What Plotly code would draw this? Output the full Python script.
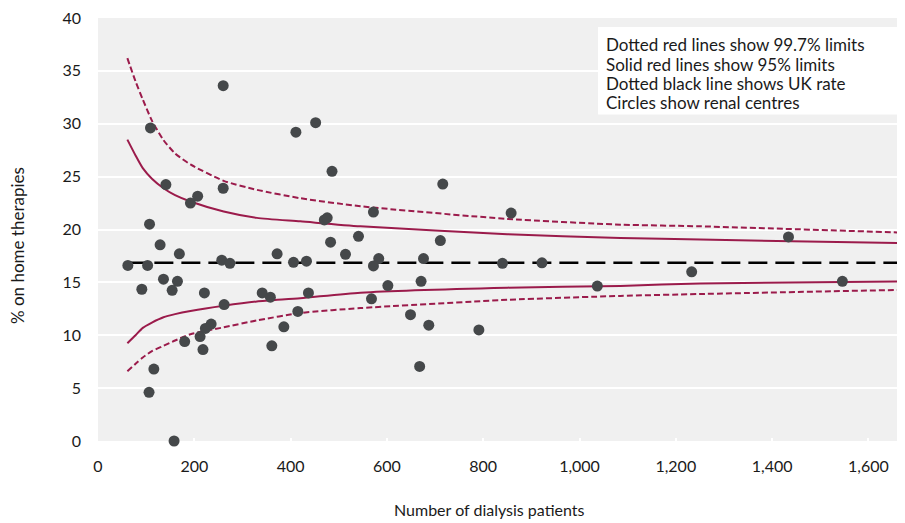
import plotly.graph_objects as go

# Renal centres: number of dialysis patients and % on home therapies
centre_n = [260, 109, 411, 452, 141, 207, 192, 260, 107, 129, 169, 62, 103, 257, 274,
            372, 406, 433, 136, 165, 91, 154, 221, 341, 358, 437, 262, 415, 235, 223,
            212, 180, 386, 218, 361, 116, 106, 158, 486, 716, 572, 470, 476, 858, 483,
            541, 711, 514, 583, 572, 676, 840, 602, 671, 568, 649, 687, 791, 668, 922,
            1233, 1037, 1434, 1546]
centre_pct = [33.6, 29.6, 29.2, 30.1, 24.25, 23.15, 22.5, 23.9, 20.5, 18.55, 17.7, 16.6, 16.6,
              17.1, 16.8, 17.7, 16.9, 17.0, 15.3, 15.1, 14.35, 14.25, 14.0, 14.0, 13.6, 14.0,
              12.9, 12.25, 11.06, 10.65, 9.87, 9.4, 10.8, 8.65, 9.0, 6.8, 4.6, 0.0, 25.5, 24.3,
              21.65, 20.9, 21.1, 21.55, 18.8, 19.35, 18.95, 17.65, 17.25, 16.55, 17.25, 16.8,
              14.7, 15.1, 13.45, 11.95, 10.95, 10.5, 7.05, 16.85, 16.0, 14.65, 19.3, 15.1]

# Funnel limits read at these patient counts
limit_n = [61, 78, 93, 112, 136, 160, 192, 261, 330, 420, 545, 850, 1085, 1251, 1676]
upper_997 = [36.2, 34.0, 32.3, 30.3, 28.45, 27.2, 26.15, 24.6, 23.75, 22.96, 22.2, 21.0, 20.46, 20.3, 19.7]
upper_95 = [28.5, 27.0, 25.8, 24.8, 23.9, 23.25, 22.65, 21.7, 21.1, 20.77, 20.3, 19.55, 19.2, 19.05, 18.7]
lower_95 = [9.25, 10.0, 10.7, 11.2, 11.7, 12.0, 12.3, 12.8, 13.2, 13.5, 14.03, 14.5, 14.66, 14.9, 15.1]
lower_997 = [6.6, 7.3, 7.9, 8.5, 9.0, 9.5, 10.1, 10.75, 11.4, 12.1, 12.57, 13.35, 13.72, 13.9, 14.3]

uk_rate = 16.85
uk_n = [61, 1676]

x_ticks = [0, 200, 400, 600, 800, 1000, 1200, 1400, 1600]
x_tick_text = ["0", "200", "400", "600", "800", "1,000", "1,200", "1,400", "1,600"]
y_ticks = [0, 5, 10, 15, 20, 25, 30, 35, 40]

legend_lines = ["Dotted red lines show 99.7% limits",
                "Solid red lines show 95% limits",
                "Dotted black line shows UK rate",
                "Circles show renal centres"]

RED = "#9b1b4b"
FONT = "Lato"
TXT = "#1a1a1a"

fig = go.Figure()
fig.add_trace(go.Scatter(x=uk_n, y=[uk_rate] * len(uk_n), mode="lines",
                         line=dict(color="black", width=2.6, dash="19px,8px"),
                         hoverinfo="skip"))
for vals, dash in [(upper_997, "6px,3px"), (lower_997, "6px,3px"),
                   (upper_95, "solid"), (lower_95, "solid")]:
    fig.add_trace(go.Scatter(x=limit_n, y=vals, mode="lines",
                             line=dict(color=RED, width=2, dash=dash, shape="spline",
                                       smoothing=0.6)))
fig.add_trace(go.Scatter(x=centre_n, y=centre_pct, mode="markers", cliponaxis=False,
                         marker=dict(color="#45484a", size=11, line=dict(width=0))))

fig.add_shape(type="rect", xref="paper", yref="paper", x0=0.6196, x1=0.9938,
              y0=0.7718, y1=0.9788, fillcolor="white", line=dict(width=0), layer="above")
legend_y = [0.938, 0.889, 0.845, 0.800]
for txt, yy in zip(legend_lines, legend_y):
    fig.add_annotation(xref="paper", yref="paper", x=0.627, y=yy, text=txt,
                       showarrow=False, xanchor="left", yanchor="middle",
                       font=dict(family=FONT, size=17, color=TXT))

fig.add_annotation(xref="paper", yref="paper", x=-0.0991, y=0.461,
                   text="% on home therapies", textangle=-90, showarrow=False,
                   xanchor="center", yanchor="middle",
                   font=dict(family=FONT, size=17, color=TXT))
fig.add_annotation(xref="paper", yref="paper", x=0.4857, y=-0.1624,
                   text="Number of dialysis patients", showarrow=False,
                   xanchor="center", yanchor="middle",
                   font=dict(family=FONT, size=16, color=TXT))

# the page adds an 8px body margin, so the figure is sized to fit 905x523 with it
fig.update_layout(
    width=897, height=515,
    margin=dict(l=90, r=0, t=8, b=82),
    paper_bgcolor="white", plot_bgcolor="#f0f0f0",
    showlegend=False,
    font=dict(family=FONT, size=16, color=TXT),
    xaxis=dict(range=[0, 1676], tickvals=x_ticks, ticktext=x_tick_text,
               showgrid=False, zeroline=False, showline=False,
               ticks="inside", tickcolor="white", ticklen=3, tickwidth=2,
               ticklabelstandoff=14,
               tickfont=dict(family=FONT, size=16, color=TXT)),
    yaxis=dict(range=[0, 40], tickvals=y_ticks, showgrid=True, gridcolor="white",
               gridwidth=2, zeroline=False, showline=False, ticks="",
               ticklabelstandoff=16, ticklabeloverflow="allow",
               tickfont=dict(family=FONT, size=16, color=TXT)),
)

fig.write_html("out.html")
